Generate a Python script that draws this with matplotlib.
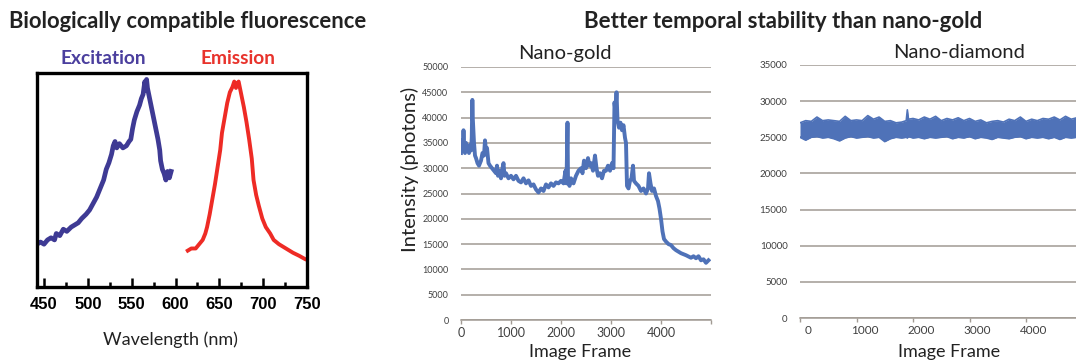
import matplotlib
matplotlib.use("Agg")
import matplotlib.pyplot as plt
import matplotlib.transforms as mtransforms

# Espectros (intensidade normalizada)
exc_wl = [442, 446, 450, 454, 458, 462, 464, 468, 472, 476, 481, 485, 489, 493, 498,
          502, 506, 510, 514, 518, 521, 524, 527, 529, 531, 533, 536, 540, 544, 547,
          549, 551, 553, 556, 559, 561, 563, 565, 566, 567, 568, 570, 572, 574, 577,
          580, 582, 583, 585, 587, 589, 591, 593, 595]
exc_val = [0.20, 0.21, 0.20, 0.22, 0.23, 0.22, 0.25, 0.24, 0.27, 0.26, 0.28, 0.29, 0.30, 0.32, 0.34,
           0.36, 0.39, 0.42, 0.46, 0.50, 0.55, 0.58, 0.62, 0.66, 0.68, 0.65, 0.67, 0.65, 0.66, 0.68,
           0.69, 0.74, 0.78, 0.82, 0.85, 0.88, 0.90, 0.96, 0.92, 0.97, 0.93, 0.89, 0.85, 0.81, 0.75,
           0.69, 0.64, 0.59, 0.55, 0.53, 0.50, 0.54, 0.51, 0.54]

emi_wl = [614, 618, 623, 627, 631, 634, 636, 639, 642, 645, 648, 651, 653, 656, 659,
          662, 665, 667, 669, 670, 672, 674, 676, 678, 681, 684, 687, 689, 692, 695,
          699, 703, 708, 712, 718, 726, 734, 741, 748, 750]
emi_val = [0.17, 0.18, 0.18, 0.20, 0.22, 0.25, 0.28, 0.34, 0.41, 0.48, 0.56, 0.64, 0.72, 0.79, 0.86,
           0.91, 0.935, 0.96, 0.93, 0.95, 0.96, 0.92, 0.88, 0.84, 0.77, 0.69, 0.60, 0.50, 0.43, 0.38,
           0.32, 0.28, 0.25, 0.22, 0.20, 0.18, 0.16, 0.146, 0.13, 0.127]

# Nano-gold: intensidade por frame
gold_frames = [0, 20, 40, 50, 60, 80, 100, 120, 140, 160, 180, 200, 215, 227, 235, 245, 260, 280,
               300, 330, 360, 400, 430, 460, 480, 500, 520, 550, 580, 620, 660, 700, 720, 740,
               770, 800, 830, 850, 870, 900, 950, 1000, 1050, 1100, 1150, 1200, 1250, 1300,
               1350, 1400, 1450, 1500, 1550, 1600, 1650, 1700, 1750, 1800, 1850, 1900, 1950,
               2000, 2050, 2090, 2110, 2130, 2140, 2170, 2200, 2250, 2300, 2350, 2400, 2430,
               2460, 2500, 2540, 2570, 2600, 2640, 2680, 2710, 2740, 2780, 2820, 2860, 2900,
               2940, 2980, 3020, 3050, 3070, 3090, 3110, 3130, 3160, 3190, 3220, 3250, 3280,
               3300, 3320, 3350, 3380, 3410, 3440, 3460, 3500, 3550, 3600, 3650, 3700, 3740,
               3760, 3790, 3820, 3860, 3900, 3940, 3970, 4000, 4030, 4060, 4100, 4150, 4200,
               4250, 4300, 4400, 4500, 4600, 4650, 4700, 4750, 4800, 4850, 4900, 4950]
gold_int = [33000, 35500, 33500, 37500, 34000, 33000, 35000, 33500, 34500, 33000, 34500, 33500,
            36000, 43500, 40000, 38000, 35000, 32500, 32000, 31000, 30500, 31500, 33000, 32500,
            35500, 33500, 34000, 31000, 30500, 30000, 29500, 29000, 30500, 28500, 29500, 28000,
            30000, 31000, 28500, 29000, 28000, 28500, 27800, 28500, 27500, 27200, 28000, 27000,
            27600, 26500, 26800, 25800, 25200, 26000, 25500, 26800, 26200, 27000, 26500, 27200,
            27000, 27500, 27000, 29500, 27000, 39000, 27500, 26500, 28000, 27000, 28500, 29500,
            30000, 29000, 31500, 30000, 32000, 30500, 31000, 29500, 32500, 30000, 28500, 29000,
            28000, 29500, 29500, 30500, 29500, 31000, 30000, 43000, 41000, 45000, 39500, 38000,
            39000, 37500, 38500, 36000, 35000, 26500, 26000, 27500, 28000, 30500, 27500, 27000,
            26500, 25500, 26000, 25000, 26000, 29000, 27000, 25500, 26000, 24500, 23500, 22000,
            20000, 17500, 16000, 15500, 15000, 14800, 14200, 13800, 13200, 12800, 12300, 12600,
            12200, 12600, 11800, 12000, 11300, 11800]

# Nano-diamond: envelope superior/inferior da faixa de ruido
dia_frames = [0, 100, 200, 300, 400, 500, 600, 700, 800, 900, 1000, 1100, 1200, 1300, 1400,
              1500, 1600, 1700, 1800, 1880, 1900, 1920, 2000, 2100, 2200, 2300, 2400, 2500,
              2600, 2700, 2800, 2900, 3000, 3100, 3200, 3300, 3400, 3500, 3600, 3700, 3800,
              3900, 4000, 4100, 4200, 4300, 4400, 4500, 4600, 4700, 4800, 4900]
dia_upper = [27000, 27300, 27200, 27800, 27300, 27400, 27300, 27200, 27900, 27300, 27400,
             27300, 28000, 27500, 27800, 27200, 27300, 27000, 27100, 27300, 28800, 27500,
             27600, 27400, 27800, 27500, 27900, 27300, 27600, 27400, 27700, 27300, 27600,
             27200, 27400, 27000, 27200, 27300, 27100, 27500, 27300, 27800, 27200, 27500,
             27300, 27600, 27500, 27800, 27400, 27900, 27500, 27700]
dia_lower = [25000, 24600, 25000, 25100, 24900, 25000, 24800, 24500, 24900, 25100, 24900,
             25000, 25100, 24900, 25000, 24400, 24800, 25000, 24900, 25000, 24900, 25100,
             24900, 25000, 24800, 25000, 24900, 25000, 25100, 24800, 25000, 24900, 25100,
             24800, 25000, 24900, 24700, 25000, 24900, 24800, 25000, 25100, 24800, 25000,
             24900, 25000, 24800, 25000, 24700, 25000, 24900, 25000]

gold_yticks = list(range(0, 50001, 5000))
dia_yticks = list(range(0, 35001, 5000))
frame_ticks = [0, 1000, 2000, 3000, 4000]
wl_major = [450, 500, 550, 600, 650, 700, 750]
wl_minor = [475, 525, 575, 625, 675, 725]

W, H = 1076, 360
plt.rcParams["font.family"] = ["Lato", "DejaVu Sans"]
fig = plt.figure(figsize=(W / 100, H / 100), dpi=100)

def box(x0, y0, x1, y1):
    # pixel -> fracao da figura
    return [x0 / W, 1 - y1 / H, (x1 - x0) / W, (y1 - y0) / H]

grid_c = "#a19a93"
label_c = "#404040"
blue = "#4f72b8"

# ---- painel 1: espectros
ax1 = fig.add_axes(box(37, 73, 307, 287))
ax1.plot(exc_wl, exc_val, color="#3e3a94", lw=3.4)
ax1.plot(emi_wl, emi_val, color="#ee2b25", lw=2.8)
ax1.set_xlim(442, 750)
ax1.set_ylim(0, 1)
ax1.set_yticks([])
ax1.set_xticks(wl_major)
ax1.set_xticks(wl_minor, minor=True)
ax1.tick_params(axis="x", which="major", direction="in", length=6.5, width=1.8, pad=7)
ax1.tick_params(axis="x", which="minor", direction="in", length=3.5, width=1.8)
for lab in ax1.get_xticklabels():
    lab.set_fontfamily("Liberation Sans")
    lab.set_fontweight("bold")
    lab.set_fontsize(12)
for s in ax1.spines.values():
    s.set_linewidth(2.4)

fig.text(188 / W, 1 - 22 / H, "Biologically compatible fluorescence", ha="center", va="center",
         fontsize=15.8, fontweight="bold", color="#222222")
fig.text(103 / W, 1 - 58 / H, "Excitation", ha="center", va="center", fontsize=13.8,
         fontweight="bold", color="#4b3f9e")
fig.text(238 / W, 1 - 58 / H, "Emission", ha="center", va="center", fontsize=13.8,
         fontweight="bold", color="#e8332c")
fig.text(170 / W, 1 - 340 / H, "Wavelength (nm)", ha="center", va="center", fontsize=13,
         color="#222222")

# ---- painel 2: nano-gold
def excel_axes(ax, yticks, ytop, ysize):
    ax.set_xlim(0, 5000)
    ax.set_ylim(0, ytop)
    ax.set_yticks(yticks)
    ax.grid(axis="y", color=grid_c, lw=1.1)
    ax.set_axisbelow(True)
    for k in ["left", "right", "top"]:
        ax.spines[k].set_visible(False)
    ax.spines["bottom"].set_color(grid_c)
    ax.spines["bottom"].set_linewidth(1.1)
    ax.tick_params(axis="y", length=0, pad=9, labelsize=ysize, labelcolor=label_c)
    ax.set_xticks([0, 1000, 2000, 3000, 4000, 5000])
    ax.set_xticklabels([str(v) for v in frame_ticks] + [""])
    ax.tick_params(axis="x", length=3, width=1, color=grid_c, pad=2, labelsize=9,
                   labelcolor=label_c)

ax2 = fig.add_axes(box(461, 67, 711, 320))
excel_axes(ax2, gold_yticks, 50000, 6.5)
ax2.plot(gold_frames, gold_int, color=blue, lw=2.8)

fig.text(783 / W, 1 - 22 / H, "Better temporal stability than nano-gold", ha="center",
         va="center", fontsize=16, fontweight="bold", color="#222222")
fig.text(565 / W, 1 - 53 / H, "Nano-gold", ha="center", va="center", fontsize=14.5,
         color="#222222")
fig.text(580 / W, 1 - 352 / H, "Image Frame", ha="center", va="center", fontsize=13,
         color="#222222")
fig.text(410 / W, 1 - 169 / H, "Intensity (photons)", ha="center", va="center",
         rotation=90, fontsize=14.5, color="#222222")

# ---- painel 3: nano-diamond (corta na borda direita, como no original)
ax3 = fig.add_axes(box(800, 65, 1082.5, 318))
excel_axes(ax3, dia_yticks, 35000, 7)
ax3.fill_between(dia_frames, dia_lower, dia_upper, color=blue, lw=0)
ax3.plot(dia_frames, dia_upper, color=blue, lw=1.2)
ax3.plot(dia_frames, dia_lower, color=blue, lw=1.2)
ax3.tick_params(axis="x", labelsize=8.5)
shift = mtransforms.ScaledTranslation(8 / 100, 0, fig.dpi_scale_trans)
for lab in ax3.get_xticklabels():
    lab.set_transform(lab.get_transform() + shift)

fig.text(959 / W, 1 - 53 / H, "Nano-diamond", ha="center", va="center", fontsize=14.5,
         color="#222222")
fig.text(949 / W, 1 - 352 / H, "Image Frame", ha="center", va="center", fontsize=13,
         color="#222222")

fig.savefig("out.png", dpi=100)
